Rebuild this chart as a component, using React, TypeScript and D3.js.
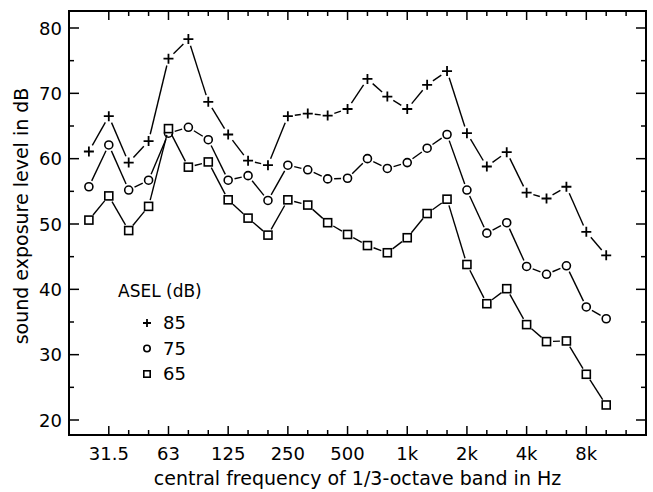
import React from "react";
import * as d3 from "d3";

// 1/3-octave bands, 25 Hz .. 10 kHz
const bands = ["25", "31.5", "40", "50", "63", "80", "100", "125", "160", "200", "250", "315", "400", "500", "630", "800",
  "1k", "1.25k", "1.6k", "2k", "2.5k", "3.15k", "4k", "5k", "6.3k", "8k", "10k"];

const asel85 = [61.1, 66.5, 59.4, 62.7, 75.3, 78.3, 68.7, 63.7, 59.7, 59.0, 66.5, 66.9, 66.6, 67.6, 72.2, 69.5,
  67.6, 71.3, 73.4, 63.9, 58.8, 61.0, 54.8, 53.9, 55.7, 48.8, 45.2];
const asel75 = [55.7, 62.1, 55.2, 56.7, 63.9, 64.8, 62.9, 56.7, 57.4, 53.6, 59.0, 58.3, 56.9, 57.0, 60.0, 58.5,
  59.4, 61.6, 63.7, 55.2, 48.6, 50.2, 43.5, 42.3, 43.6, 37.3, 35.5];
const asel65 = [50.6, 54.3, 49.0, 52.7, 64.6, 58.7, 59.5, 53.7, 50.9, 48.3, 53.7, 52.9, 50.2, 48.4, 46.7, 45.6,
  47.9, 51.6, 53.8, 43.8, 37.8, 40.1, 34.6, 32.0, 32.1, 27.0, 22.3];

const octaveLabels = ["31.5", "63", "125", "250", "500", "1k", "2k", "4k", "8k"];
const yTicks = [20, 30, 40, 50, 60, 70, 80];
const legendLabels = ["85", "75", "65"];

const W = 653, H = 492;
const left = 69, right = 646, top = 11, bottom = 435;
const font = "DejaVu Sans, sans-serif";

// exact centre frequency of band index i (0 = 25 Hz)
const freq = (i: number) => 1000 * Math.pow(2, (i - 16) / 3);

const x = d3.scaleLog().base(2).domain([freq(-1), freq(28)]).range([left, right]);
const y = d3.scaleLinear().domain([20, 80]).range([420, 28]);

function Marker({ kind, cx, cy, s = 1 }: { kind: string; cx: number; cy: number; s?: number }) {
  if (kind === "plus") {
    const a = 5 * s;
    return <path d={`M${cx - a},${cy}H${cx + a}M${cx},${cy - a}V${cy + a}`} stroke="#000" strokeWidth={1.8} />;
  }
  if (kind === "circle") {
    return <circle cx={cx} cy={cy} r={4 * s} fill="#fff" stroke="#000" strokeWidth={1.6} />;
  }
  const h = 4 * s;
  return <rect x={cx - h} y={cy - h} width={2 * h} height={2 * h} fill="#fff" stroke="#000" strokeWidth={1.6} />;
}

function Series({ values, kind, gap }: { values: number[]; kind: string; gap: number }) {
  const pts = values.map((v, i) => [x(freq(i)), y(v)]);
  const segs = [];
  for (let i = 0; i < pts.length - 1; i++) {
    const [x1, y1] = pts[i], [x2, y2] = pts[i + 1];
    const len = Math.hypot(x2 - x1, y2 - y1);
    if (len <= 2 * gap) continue;
    const ux = (x2 - x1) / len, uy = (y2 - y1) / len;
    segs.push(<line key={i} x1={x1 + ux * gap} y1={y1 + uy * gap} x2={x2 - ux * gap} y2={y2 - uy * gap}
      stroke="#000" strokeWidth={1.4} />);
  }
  return (
    <g>
      {segs}
      {pts.map((p, i) => <Marker key={i} kind={kind} cx={p[0]} cy={p[1]} />)}
    </g>
  );
}

export default function App() {
  const tickIdx = d3.range(1, 28);
  const minorY = d3.range(20, 81, 5).filter(v => v % 10 !== 0);
  return (
    <svg width={W} height={H} style={{ position: "absolute", left: 0, top: 0, background: "#fff" }} fontFamily={font}>
      <rect x={0} y={0} width={W} height={H} fill="#fff" />
      {/* frequency ticks, bottom and top */}
      {tickIdx.map(i => {
        const major = (i - 1) % 3 === 0;
        const xx = x(freq(i));
        const l = major ? 9 : 5;
        return (
          <g key={i} stroke="#000" strokeWidth={1.5}>
            <line x1={xx} x2={xx} y1={bottom} y2={bottom - l} />
            <line x1={xx} x2={xx} y1={top} y2={top + l} />
          </g>
        );
      })}
      {octaveLabels.map((t, k) => (
        <text key={t} x={x(freq(1 + 3 * k))} y={460} textAnchor="middle" fontSize={18}>{t}</text>
      ))}
      {/* level ticks, left and right */}
      {yTicks.map(v => (
        <g key={v}>
          <line x1={left} x2={left + 10} y1={y(v)} y2={y(v)} stroke="#000" strokeWidth={1.5} />
          <line x1={right} x2={right - 10} y1={y(v)} y2={y(v)} stroke="#000" strokeWidth={1.5} />
          <text x={62} y={y(v) + 6.5} textAnchor="end" fontSize={18}>{v}</text>
        </g>
      ))}
      {minorY.map(v => (
        <g key={v} stroke="#000" strokeWidth={1.5}>
          <line x1={left} x2={left + 5} y1={y(v)} y2={y(v)} />
          <line x1={right} x2={right - 5} y1={y(v)} y2={y(v)} />
        </g>
      ))}
      <rect x={left} y={top} width={right - left} height={bottom - top} fill="none" stroke="#000" strokeWidth={2} />

      <Series values={asel85} kind="plus" gap={7} />
      <Series values={asel75} kind="circle" gap={6.5} />
      <Series values={asel65} kind="square" gap={6.5} />

      {/* legend */}
      <text x={118} y={297} fontSize={17}>ASEL (dB)</text>
      {legendLabels.map((t, k) => (
        <g key={t}>
          <Marker kind={["plus", "circle", "square"][k]} cx={147} cy={323 + 25.5 * k} s={0.8} />
          <text x={163} y={329 + 25.5 * k} fontSize={18}>{t}</text>
        </g>
      ))}

      <text x={(left + right) / 2} y={485} textAnchor="middle" fontSize={19}>
        central frequency of 1/3-octave band in Hz
      </text>
      <text transform={`translate(28,216) rotate(-90)`} textAnchor="middle" fontSize={19}>
        sound exposure level in dB
      </text>
    </svg>
  );
}
